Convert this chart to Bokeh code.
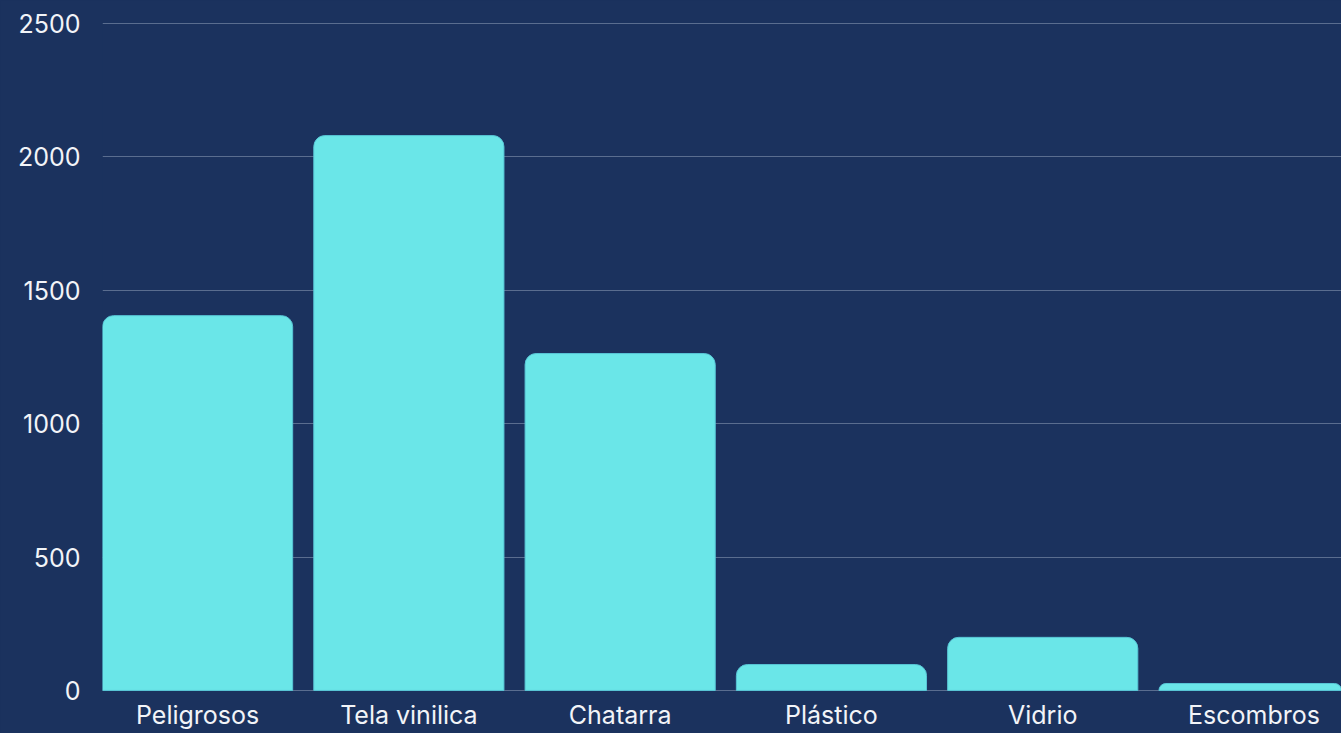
from bokeh.plotting import figure
from bokeh.models import Range1d, FixedTicker, ColumnDataSource
from bokeh.embed import file_html
from bokeh.resources import INLINE

categories = ["Peligrosos", "Tela vinilica", "Chatarra", "Plástico", "Vidrio", "Escombros"]
values = [1405, 2080, 1263, 97, 199, 26]
y_ticks = [0, 500, 1000, 1500, 2000, 2500]

BG = "#1b325e"
BAR = "#6ae6e8"
FONT = "Inter"

positions = [i + 0.5 for i in range(len(categories))]
source = ColumnDataSource(dict(x=positions, top=values, cat=categories))

p = figure(width=1341, height=733, output_backend="svg", toolbar_location=None,
           x_range=Range1d(0.05, 5.914), y_range=Range1d(-4, 2504),
           min_border_left=102, min_border_right=0, min_border_top=22,
           min_border_bottom=42)
p.background_fill_color = BG
p.border_fill_color = BG
p.outline_line_color = None

p.ygrid.grid_line_color = "#5a6d8f"
p.ygrid.grid_line_width = 1
p.ygrid.ticker = FixedTicker(ticks=y_ticks)
p.xgrid.grid_line_color = None

p.vbar(x="x", top="top", width=0.9, bottom=0, source=source,
       fill_color=BAR, line_color="#58c6d6", line_width=1,
       border_radius=(11, 11, 0, 0))

p.yaxis.ticker = FixedTicker(ticks=y_ticks)
p.yaxis.axis_line_color = None
p.yaxis.major_tick_line_color = None
p.yaxis.minor_tick_line_color = None
p.yaxis.major_label_standoff = 16
p.yaxis.major_label_text_color = "#f2f4f8"
p.yaxis.major_label_text_font = FONT
p.yaxis.major_label_text_font_size = "25px"

p.xaxis.ticker = FixedTicker(ticks=positions)
p.xaxis.major_label_overrides = {pos: cat for pos, cat in zip(positions, categories)}
p.xaxis.axis_line_color = None
p.xaxis.major_tick_line_color = None
p.xaxis.minor_tick_line_color = None
p.xaxis.major_label_standoff = 2
p.xaxis.major_label_text_color = "#f2f4f8"
p.xaxis.major_label_text_font = FONT
p.xaxis.major_label_text_font_size = "25px"

html = file_html(p, INLINE)
html = html.replace("</head>", "<style>html,body{margin:0;padding:0;background:%s;overflow:hidden}</style></head>" % BG, 1)
open("out.html", "w").write(html)
